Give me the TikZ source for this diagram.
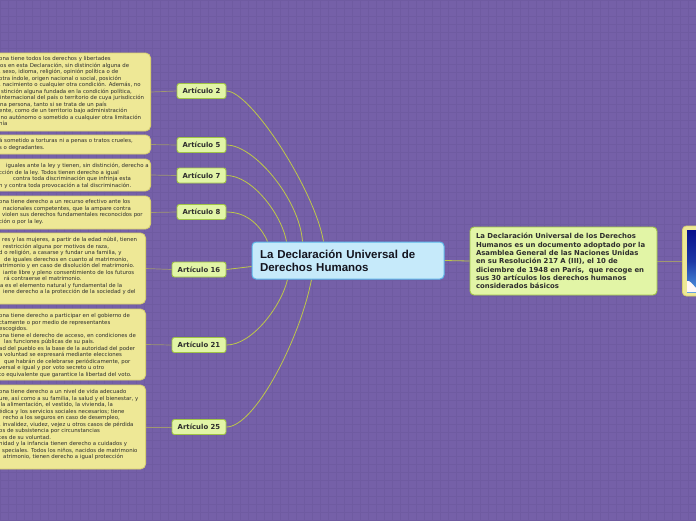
\documentclass[tikz,border=0pt]{standalone}
\usepackage{fontspec}
\setmainfont{DejaVu Sans}
\newfontfamily\rootfont{Liberation Sans}
\usetikzlibrary{calc}
\pgfdeclarelayer{bgl}
\pgfdeclarelayer{edges}
\pgfsetlayers{bgl,edges,main}
\definecolor{bgc}{RGB}{117,96,168}
\definecolor{bggrid}{RGB}{111,91,161}
\definecolor{yfill}{RGB}{238,232,150}
\definecolor{ydraw}{RGB}{216,208,112}
\definecolor{gfill}{RGB}{226,245,166}
\definecolor{gdraw}{RGB}{160,196,70}
\definecolor{bfill}{RGB}{198,234,250}
\definecolor{bdraw}{RGB}{92,182,232}
\definecolor{txt}{RGB}{45,45,45}
\definecolor{rtxt}{RGB}{20,20,30}
\definecolor{curvecol}{RGB}{190,200,72}
\definecolor{stubc}{RGB}{160,152,112}
\definecolor{skytop}{RGB}{8,16,140}
\definecolor{skybot}{RGB}{80,150,225}
\tikzset{
 txtbox/.style={draw=ydraw, fill=yfill, rounded corners=5pt, line width=0.8pt, inner sep=0pt, anchor=east},
 boxtext/.style={font=\fontsize{5.4}{6.5}\selectfont, text=txt, align=left, inner sep=0pt, anchor=north west},
 artbox/.style={draw=gdraw, fill=gfill, rounded corners=2.5pt, line width=0.9pt, font=\fontsize{6.9}{8}\selectfont\bfseries, text=txt, minimum height=15pt, inner sep=0pt},
 stub/.style={draw=stubc, line width=0.7pt},
 curvec/.style={draw=curvecol, line width=0.8pt},
}
\newcommand{\fl}{\rule{0pt}{5.5pt}}
\begin{document}
\begin{tikzpicture}[x=1pt,y=-1pt]
\useasboundingbox (0,0) rectangle (696,520);
\clip (0,0) rectangle (696,520);
\begin{pgfonlayer}{bgl}
\fill[bgc] (0,0) rectangle (696,520);
\draw[bggrid, line width=0.4pt, step=8pt] (0,0) grid (696,520);
\end{pgfonlayer}

% text boxes
\node[txtbox, minimum width=180pt, minimum height=78pt] (b2) at (151,92) {};
\node[boxtext] (t2) at (-1,55) {\fl ona tiene todos los derechos y libertades\\
\hspace*{1pt}os en esta Declaración, sin distinción alguna de\\
, sexo, idioma, religión, opinión política o de\\
otra índole, origen nacional o social, posición\\
, nacimiento o cualquier otra condición. Además, no\\
\hspace*{2pt}stinción alguna fundada en la condición política,\\
\hspace*{1pt}internacional del país o territorio de cuya jurisdicción\\
\hspace*{1pt}na persona, tanto si se trata de un país\\
ente, como de un territorio bajo administración\\
\hspace*{1.5pt}no autónomo o sometido a cualquier otra limitación\\
nía};

\node[txtbox, minimum width=180pt, minimum height=19pt] (b5) at (151,144.5) {};
\node[boxtext] (t5) at (-1,137) {\fl á sometido a torturas ni a penas o tratos crueles,\\
s o degradantes.};

\node[txtbox, minimum width=180pt, minimum height=32pt] (b7) at (151,175) {};
\node[boxtext] (t7) at (-1,162) {\fl\hspace*{7pt}iguales ante la ley y tienen, sin distinción, derecho a\\
cción de la ley. Todos tienen derecho a igual\\
\hspace*{14pt}contra toda discriminación que infrinja esta\\
n y contra toda provocación a tal discriminación.};

\node[txtbox, minimum width=180pt, minimum height=33pt] (b8) at (151,212.5) {};
\node[boxtext] (t8) at (-1,198) {\fl ona tiene derecho a un recurso efectivo ante los\\
\hspace*{4pt}nacionales competentes, que la ampare contra\\
\hspace*{3pt}violen sus derechos fundamentales reconocidos por\\
ción o por la ley.};

\node[txtbox, minimum width=175pt, minimum height=71pt] (b16) at (146,268.5) {};
\node[boxtext] (t16) at (-1,236) {\fl\hspace*{3pt}res y las mujeres, a partir de la edad núbil, tienen\\
\hspace*{4pt}restricción alguna por motivos de raza,\\
d o religión, a casarse y fundar una familia, y\\
\hspace*{5pt}de iguales derechos en cuanto al matrimonio,\\
atrimonio y en caso de disolución del matrimonio.\\
\hspace*{4pt}iante libre y pleno consentimiento de los futuros\\
\hspace*{5pt}rá contraerse el matrimonio.\\
\hspace*{1pt}a es el elemento natural y fundamental de la\\
\hspace*{4pt}iene derecho a la protección de la sociedad y del};

\node[txtbox, minimum width=175pt, minimum height=71pt] (b21) at (146,344.5) {};
\node[boxtext] (t21) at (-1,312) {\fl ona tiene derecho a participar en el gobierno de\\
ctamente o por medio de representantes\\
escogidos.\\
ona tiene el derecho de acceso, en condiciones de\\
\hspace*{5pt}las funciones públicas de su país.\\
ad del pueblo es la base de la autoridad del poder\\
a voluntad se expresará mediante elecciones\\
\hspace*{5pt}que habrán de celebrarse periódicamente, por\\
versal e igual y por voto secreto u otro\\
to equivalente que garantice la libertad del voto.};

\node[txtbox, minimum width=175pt, minimum height=84pt] (b25) at (146,427) {};
\node[boxtext] (t25) at (-1,388) {\fl ona tiene derecho a un nivel de vida adecuado\\
ure, así como a su familia, la salud y el bienestar, y\\
\hspace*{1.5pt}la alimentación, el vestido, la vivienda, la\\
édica y los servicios sociales necesarios; tiene\\
\hspace*{4pt}recho a los seguros en caso de desempleo,\\
, invalidez, viudez, vejez u otros casos de pérdida\\
os de subsistencia por circunstancias\\
tes de su voluntad.\\
nidad y la infancia tienen derecho a cuidados y\\
\hspace*{3pt}speciales. Todos los niños, nacidos de matrimonio\\
\hspace*{4pt}atrimonio, tienen derecho a igual protección};

% article nodes
\node[artbox, minimum width=49pt] (a2) at (201.5,91) {Artículo 2};
\node[artbox, minimum width=49pt] (a5) at (201.5,145) {Artículo 5};
\node[artbox, minimum width=49pt] (a7) at (201.5,175.5) {Artículo 7};
\node[artbox, minimum width=49pt] (a8) at (201.5,212) {Artículo 8};
\node[artbox, minimum width=54pt] (a16) at (199,269.5) {Artículo 16};
\node[artbox, minimum width=54pt] (a21) at (199,345) {Artículo 21};
\node[artbox, minimum width=54pt] (a25) at (199,427) {Artículo 25};

% root
\node[draw=bdraw, fill=bfill, rounded corners=4pt, line width=1pt,
  minimum width=192pt, minimum height=37pt, text width=176pt, inner xsep=8pt, inner ysep=0pt,
  align=left, font=\rootfont\bfseries\fontsize{11.5}{13}\selectfont, text=rtxt] (root) at (348,260.5)
  {La Declaración Universal de\\Derechos Humanos};

% description
\node[draw=gdraw, fill=gfill, rounded corners=4pt, line width=0.9pt,
  minimum width=187pt, minimum height=68pt, text width=175pt, inner xsep=6pt, inner ysep=0pt,
  align=left, font=\bfseries\fontsize{6.9}{8.33}\selectfont, text=txt] (desc) at (563.5,261)
  {La Declaración Universal de los Derechos\\
Humanos es un documento adoptado por la\\
Asamblea General de las Naciones Unidas\\
en su Resolución 217 A (III), el 10 de\\
diciembre de 1948 en París,\ \ que recoge en\\
sus 30 artículos los derechos humanos\\
considerados básicos};

% image frame
\node[draw=ydraw, fill=yfill, rounded corners=4pt, line width=0.8pt,
  minimum width=36pt, minimum height=70pt, anchor=west, inner sep=0pt] (img) at (682,261) {};
\shade[top color=skytop, bottom color=skybot, middle color=skytop!70!skybot] (687,230) rectangle (720,292);
\fill[white!85!pink] (687,292) -- (687,281) .. controls (690,280) and (693,285) .. (696,288) -- (696,292) -- cycle;

% connector end points on root border
\coordinate (e2) at ($(root.north west)+(72,0)$);
\coordinate (e5) at ($(root.north west)+(51,0)$);
\coordinate (e7) at ($(root.north west)+(35,0)$);
\coordinate (e8) at ($(root.north west)+(16,0)$);
\coordinate (e16) at ($(root.south west)+(0,-13)$);
\coordinate (e21) at ($(root.south west)+(36,0)$);
\coordinate (e25) at ($(root.south west)+(60,0)$);

\begin{pgfonlayer}{edges}
\draw[stub] (b2.east) -- (a2.west);
\draw[stub] (b5.east) -- (a5.west);
\draw[stub] (b7.east) -- (a7.west);
\draw[stub] (b8.east) -- (a8.west);
\draw[stub] (b16.east) -- (a16.west);
\draw[stub] (b21.east) -- (a21.west);
\draw[stub] (b25.east) -- (a25.west);
\draw[curvec] (a2.east) .. controls +(24,0) and +(-9,-52) .. (e2);
\draw[curvec] (a5.east) .. controls +(28,0) and +(-3,-42) .. (e5);
\draw[curvec] (a7.east) .. controls +(26,0) and +(-5,-27) .. (e7);
\draw[curvec] (a8.east) .. controls +(22,0) and +(-6,-14) .. (e8);
\draw[curvec] (a16.east) -- (e16);
\draw[curvec] (a21.east) .. controls +(26,0) and +(-6,26) .. (e21);
\draw[curvec] (a25.east) .. controls +(28,0) and +(-12,61) .. (e25);
\draw[curvec] (root.east) -- (desc.west);
\draw[stub] (desc.east) -- (img.west);
\end{pgfonlayer}
\end{tikzpicture}
\end{document}
